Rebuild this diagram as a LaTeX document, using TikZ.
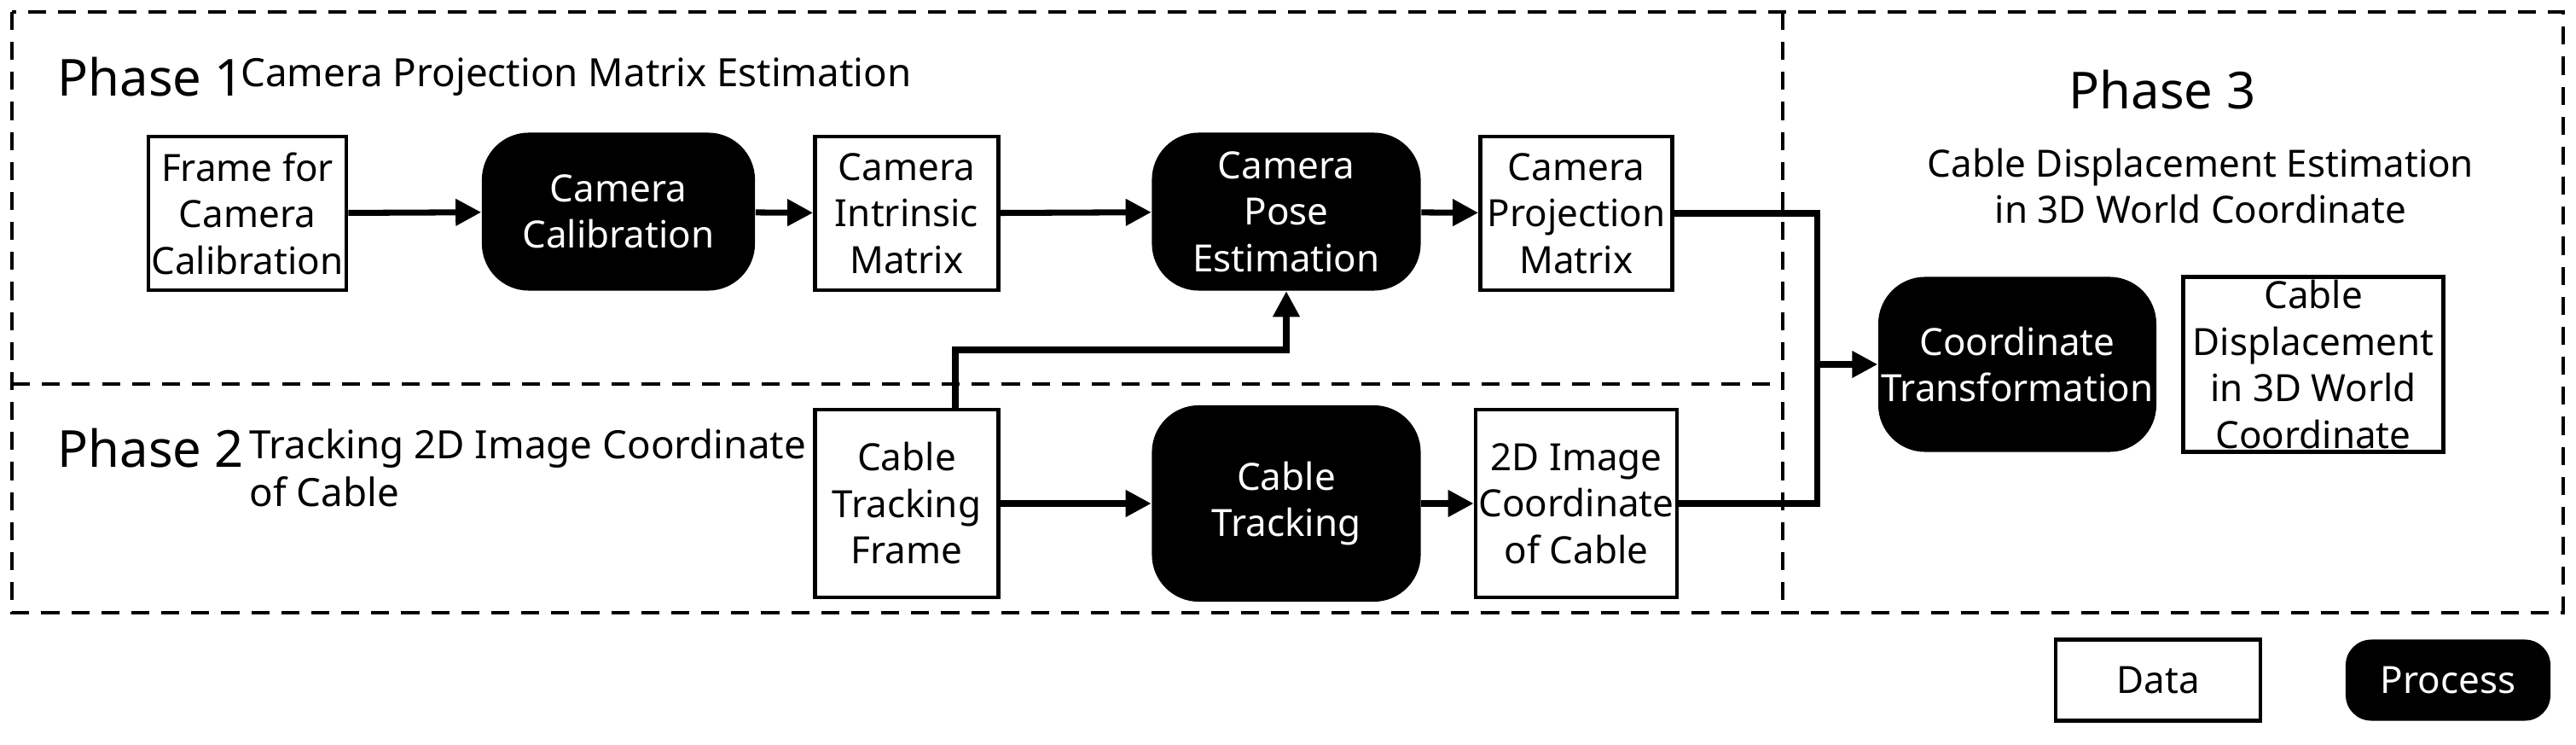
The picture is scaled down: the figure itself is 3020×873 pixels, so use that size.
\documentclass[tikz,border=0pt]{standalone}
\usepackage{fontspec}
\setmainfont{Noto Sans}
\usetikzlibrary{arrows.meta}
\begin{document}
\begin{tikzpicture}[x=0.01cm,y=-0.01cm,
 txt/.style={font=\fontsize{12.5}{15.5}\selectfont\bfseries,align=center,inner sep=1pt},
 data/.style={txt,draw,line width=1.3pt,fill=white},
 proc/.style={txt,fill=black,text=white,rounded corners=0.55cm},
 arr/.style={line width=2pt,-{Triangle[length=0.3cm,width=0.3cm]}},
 dsh/.style={line width=1.1pt,dash pattern=on 6pt off 4pt}]
\useasboundingbox (0,0) rectangle (3020,873);
\draw[dsh] (14,14) rectangle (3005,718);
\draw[dsh] (2090,14) -- (2090,718);
\draw[dsh] (14,450) -- (2090,450);
\node[anchor=west,font=\fontsize{17}{20}\selectfont\bfseries] (p1) at (55,90) {Phase 1};
\node[anchor=west,font=\fontsize{13}{16}\selectfont\bfseries] (p1t) at (270,90) {Camera Projection Matrix Estimation};
\node[anchor=west,font=\fontsize{17}{20}\selectfont\bfseries] (p2) at (55,525) {Phase 2};
\node[anchor=west,font=\fontsize{13}{16}\selectfont\bfseries,align=left] (p2t) at (280,548) {Tracking 2D Image Coordinate\\of Cable};
\node[font=\fontsize{17}{20}\selectfont\bfseries] (p3) at (2535,105) {Phase 3};
\node[txt] (p3t) at (2580,218) {Cable Displacement Estimation\\in 3D World Coordinate};
\node[data,minimum width=2.2cm,minimum height=1.8cm] (f) at (290,250) {Frame for\\Camera\\Calibration};
\node[proc,minimum width=3.2cm,minimum height=1.85cm] (cc) at (725,248) {Camera\\Calibration};
\node[data,minimum width=2.15cm,minimum height=1.8cm] (im) at (1063,250) {Camera\\Intrinsic\\Matrix};
\node[proc,minimum width=3.15cm,minimum height=1.85cm] (pe) at (1508,248) {Camera\\Pose\\Estimation};
\node[data,minimum width=2.25cm,minimum height=1.8cm] (pm) at (1848,250) {Camera\\Projection\\Matrix};
\node[data,minimum width=2.15cm,minimum height=2.2cm] (tf) at (1063,590) {Cable\\Tracking\\Frame};
\node[proc,minimum width=3.15cm,minimum height=2.3cm] (ct) at (1508,590) {Cable\\Tracking};
\node[data,minimum width=2.25cm,minimum height=2.2cm] (ic) at (1848,590) {2D Image\\Coordinate\\of Cable};
\node[proc,minimum width=3.1cm,minimum height=2.05cm] (tr) at (2365,427) {Coordinate\\Transformation};
\node[data,minimum width=3.05cm,minimum height=2.05cm] (cd) at (2712,427) {Cable\\Displacement\\in 3D World\\Coordinate};
\node[data,minimum width=2.4cm,minimum height=0.95cm] (ld) at (2530,797) {Data};
\node[proc,minimum width=2.4cm,minimum height=0.95cm,rounded corners=0.3cm] (lp) at (2870,797) {Process};
\coordinate (j) at (2130,427);
\coordinate (s) at (1120,480);
\draw[arr] (f) -- (cc);
\draw[arr] (cc) -- (im);
\draw[arr] (im) -- (pe);
\draw[arr] (pe) -- (pm);
\draw[arr] (tf) -- (ct);
\draw[arr] (ct) -- (ic);
\draw[line width=2pt] (pm.east) -| (j);
\draw[line width=2pt] (ic.east) -| (j);
\draw[arr] (j) -- (tr);
\draw[arr] (s) |- (1508,410) -- (pe.south);
\end{tikzpicture}
\end{document}
